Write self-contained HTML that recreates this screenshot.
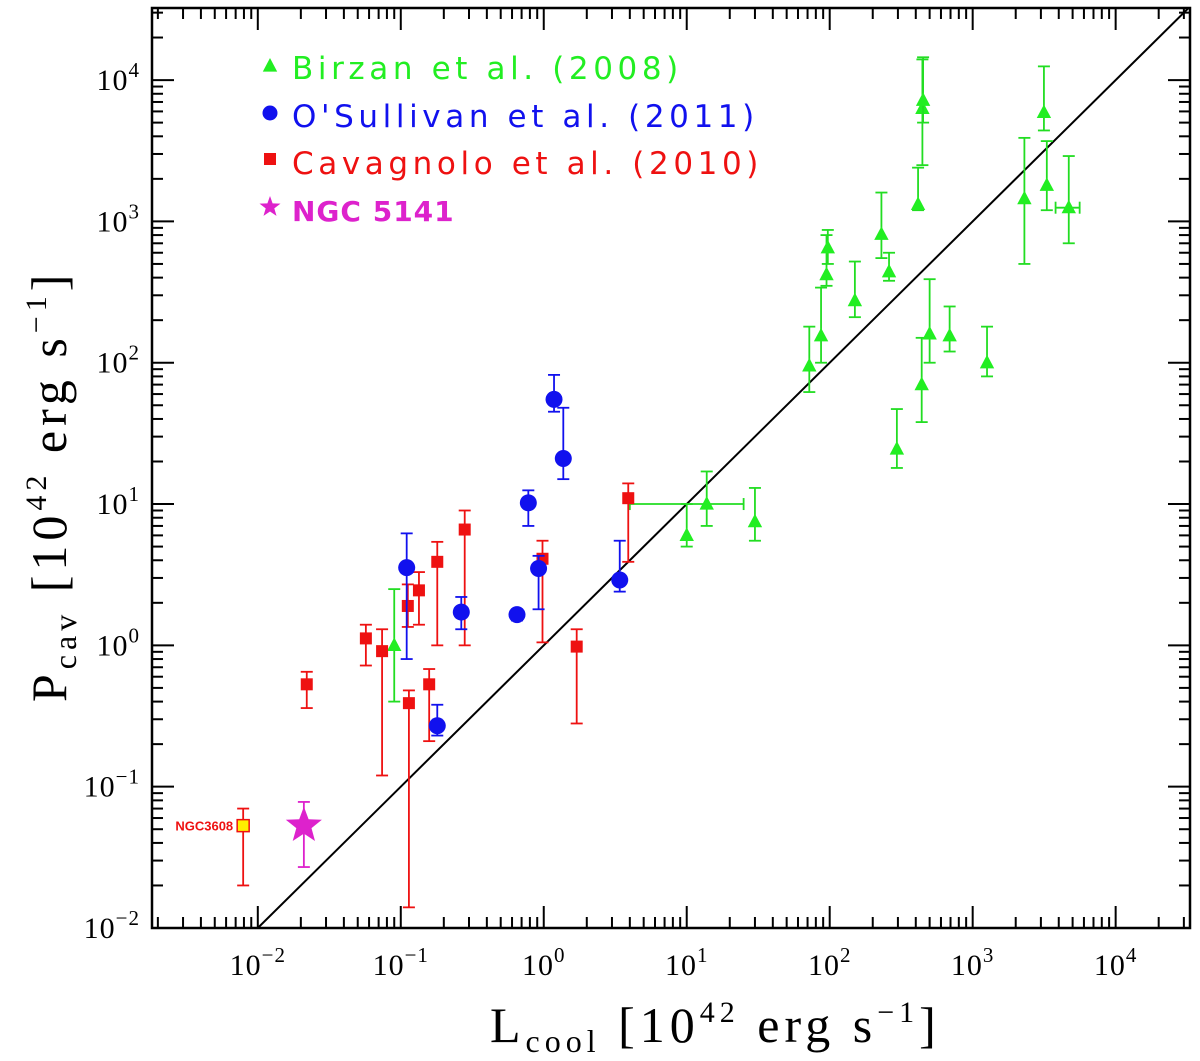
<!DOCTYPE html>
<html><head><meta charset="utf-8"><style>
html,body{margin:0;padding:0;background:#fff;width:1200px;height:1061px;overflow:hidden}
svg{display:block}
.tk{font-family:"Liberation Serif",serif;font-size:30px;fill:#000;letter-spacing:1px}
.ti{font-family:"Liberation Serif",serif;font-size:50px;fill:#000;letter-spacing:5px}
.lg{font-family:"DejaVu Sans","Liberation Sans",sans-serif;font-size:31px;letter-spacing:4.6px}
</style></head><body>
<svg id="chart" width="1200" height="1061"></svg>
<script>
const birzanX=[0.09,10,13.8,30,72,87,95,97,150,230,260,295,415,440,445,450,500,690,1260,2300,3150,3300,4700];
const birzanY=[1.0,6,10,7.5,95,155,420,650,275,810,440,24.5,1320,70,6300,7200,160,155,100,1450,5900,1800,1250];
const birzanLo=[0.4,5,7,5.5,62,100,350,500,210,550,380,18,1200,38,2500,5000,100,120,80,500,4400,1200,700];
const birzanHi=[2.5,10,17,13,180,340,800,870,520,1600,600,47,2400,150,14000,14500,390,250,180,3900,12500,3700,2900];
const birzanXLo=[null,null,4,null,null,null,null,null,null,null,null,null,null,null,null,null,null,null,null,null,null,null,3800];
const birzanXHi=[null,null,25,null,null,null,null,null,null,null,null,null,null,null,null,null,null,null,null,null,null,null,5600];
const osulX=[0.11,0.18,0.265,0.65,0.78,0.92,1.18,1.37,3.4];
const osulY=[3.55,0.27,1.72,1.65,10.2,3.5,55,21,2.9];
const osulLo=[0.8,0.23,1.3,1.5,7,1.8,45,15,2.4];
const osulHi=[6.2,0.38,2.2,1.8,12.5,4.3,82,48,5.5];
const cavX=[0.022,0.057,0.074,0.112,0.114,0.134,0.158,0.18,0.28,0.98,1.7,3.9];
const cavY=[0.53,1.12,0.91,1.9,0.39,2.45,0.53,3.9,6.6,4.1,0.98,11];
const cavLo=[0.36,0.72,0.12,1.35,0.014,1.4,0.21,1.0,1.0,1.05,0.28,3.9];
const cavHi=[0.65,1.4,1.3,2.7,0.48,3.3,0.68,5.4,9.0,5.5,1.3,14];
const ngc3608=[0.0079,0.053,0.02,0.07];
const ngc5141=[0.021,0.053,0.027,0.078];
const xTicks=[-2,-1,0,1,2,3,4];
const yTicks=[-2,-1,0,1,2,3,4];
const tickLabels=["−2","−1","0","1","2","3","4"];

const L=152,R=1190,T=8,B=928;
const xmin=-2.74,xmax=4.52,ymin=-2,ymax=4.51;
const sx=v=>L+(Math.log10(v)-xmin)/(xmax-xmin)*(R-L);
const sy=v=>B-(Math.log10(v)-ymin)/(ymax-ymin)*(B-T);
const lx=l=>L+(l-xmin)/(xmax-xmin)*(R-L);
const ly=l=>B-(l-ymin)/(ymax-ymin)*(B-T);
const svg=document.getElementById('chart');
const NS='http://www.w3.org/2000/svg';
function mk(tag,at,parent){const e=document.createElementNS(NS,tag);for(const k in at)e.setAttribute(k,at[k]);(parent||svg).appendChild(e);return e;}

const clip=mk('clipPath',{id:'pc'});mk('rect',{x:L,y:T,width:R-L,height:B-T},clip);
const diag=mk('line',{x1:sx(0.01),y1:sy(0.01),x2:lx(4.52),y2:ly(4.52),stroke:'#000','stroke-width':2,'clip-path':'url(#pc)'});



const tg=mk('g',{stroke:'#000','stroke-width':2});


for(let d=-3;d<=4;d++){for(let m=1;m<10;m++){const l=d+Math.log10(m);const len=m==1?22:11;
 if(l>xmin&&l<xmax){const x=lx(l);mk('line',{x1:x,y1:B,x2:x,y2:B-len},tg);mk('line',{x1:x,y1:T,x2:x,y2:T+len},tg);}
 if(l>ymin-0.001&&l<ymax){const y=ly(l);mk('line',{x1:L,y1:y,x2:L+len,y2:y},tg);mk('line',{x1:R,y1:y,x2:R-len,y2:y},tg);}}}
const frame=mk('rect',{x:L,y:T,width:R-L,height:B-T,fill:'none',stroke:'#000','stroke-width':2.5});



xTicks.forEach((t,i)=>{const tx=mk('text',{x:lx(t),y:975,class:'tk','text-anchor':'middle'});tx.innerHTML='10<tspan dy="-13" font-size="21">'+tickLabels[i]+'</tspan>';
 
 });
yTicks.forEach((t,i)=>{const tx=mk('text',{x:140,y:ly(t)+10,class:'tk','text-anchor':'end'});tx.innerHTML='10<tspan dy="-13" font-size="21">'+tickLabels[i]+'</tspan>';
 
 });

const xt=mk('text',{x:490,y:1042,class:'ti'});
xt.innerHTML='L<tspan font-size="32" dy="10">cool</tspan><tspan dy="-10"> [10</tspan><tspan font-size="30" dy="-20">42</tspan><tspan dy="20"> erg s</tspan><tspan font-size="30" dy="-20">−1</tspan><tspan dy="20">]</tspan>';


const yt=mk('text',{class:'ti',transform:'translate(66,702) rotate(-90)'});
yt.innerHTML='P<tspan font-size="32" dy="10">cav</tspan><tspan dy="-10"> [10</tspan><tspan font-size="30" dy="-20">42</tspan><tspan dy="20"> erg s</tspan><tspan font-size="30" dy="-20">−1</tspan><tspan dy="20">]</tspan>';



function errbar(g,x,lo,hi,col){const X=sx(x);mk('line',{x1:X,y1:sy(lo),x2:X,y2:sy(hi),stroke:col,'stroke-width':1.8},g);
 [lo,hi].forEach(v=>mk('line',{x1:X-6,y1:sy(v),x2:X+6,y2:sy(v),stroke:col,'stroke-width':1.8},g));}
function xerr(g,y,lo,hi,col){const Y=sy(y);mk('line',{x1:sx(lo),y1:Y,x2:sx(hi),y2:Y,stroke:col,'stroke-width':1.8},g);
 [lo,hi].forEach(v=>mk('line',{x1:sx(v),y1:Y-6,x2:sx(v),y2:Y+6,stroke:col,'stroke-width':1.8},g));}
const tri=(x,y,s)=>`${x},${y-s} ${x-s*0.9},${y+s*0.7} ${x+s*0.9},${y+s*0.7}`;
function star(x,y,r,r2){let p=[];for(let i=0;i<10;i++){const a=-Math.PI/2+i*Math.PI/5;const rr=i%2?r2:r;p.push((x+rr*Math.cos(a)).toFixed(1)+','+(y+rr*Math.sin(a)).toFixed(1));}return p.join(' ');}

const gG=mk('g',{});
birzanX.forEach((x,i)=>{errbar(gG,x,birzanLo[i],birzanHi[i],'#22dd22');if(birzanXLo[i])xerr(gG,birzanY[i],birzanXLo[i],birzanXHi[i],'#22dd22');
 const p=mk('polygon',{points:tri(sx(x),sy(birzanY[i]),8),fill:'#22ee22'},gG);
 
 });
const gC=mk('g',{});
cavX.forEach((x,i)=>{errbar(gC,x,cavLo[i],cavHi[i],'#ee1111');
 const p=mk('rect',{x:sx(x)-6,y:sy(cavY[i])-6,width:12,height:12,fill:'#ee1111'},gC);
 
 });
const gB=mk('g',{});
osulX.forEach((x,i)=>{errbar(gB,x,osulLo[i],osulHi[i],'#1111ee');
 const p=mk('circle',{cx:sx(x),cy:sy(osulY[i]),r:8.5,fill:'#1111ee'},gB);
 
 });
const gN=mk('g',{});
errbar(gN,ngc3608[0],ngc3608[2],ngc3608[3],'#ee1111');
mk('rect',{x:sx(ngc3608[0])-6,y:sy(ngc3608[1])-6,width:12,height:12,fill:'#ffee00',stroke:'#ee1111','stroke-width':1.5},gN);
const nl=mk('text',{x:sx(ngc3608[0])-10,y:sy(ngc3608[1])+5,'text-anchor':'end',fill:'#ee1111','font-size':'13','font-weight':'bold','font-family':'"Liberation Sans",sans-serif'},gN);nl.textContent='NGC3608';


const gS=mk('g',{});
errbar(gS,ngc5141[0],ngc5141[2],ngc5141[3],'#dd22cc');
mk('polygon',{points:star(sx(ngc5141[0]),sy(ngc5141[1]),19,8),fill:'#dd22cc'},gS);

const lg=mk('g',{});
const ents=[['Birzan et al. (2008)','#22ee22','tri',68],["O'Sullivan et al. (2011)",'#1111ee','cir',116],['Cavagnolo et al. (2010)','#ee1111','sq',163],['NGC 5141','#dd22cc','star',210]];
ents.forEach(e=>{const y=e[3];
 if(e[2]=='tri')mk('polygon',{points:tri(270,y-2,8),fill:e[1]},lg);
 if(e[2]=='cir')mk('circle',{cx:270,cy:y-3,r:7.5,fill:e[1]},lg);
 if(e[2]=='sq')mk('rect',{x:264,y:y-10,width:12,height:12,fill:e[1]},lg);
 if(e[2]=='star')mk('polygon',{points:star(270,y-3,11,4.5),fill:e[1]},lg);
 const t=mk('text',{x:292,y:y+11,class:'lg',fill:e[1]},lg);
 if(e[2]=='star'){t.setAttribute('font-weight','bold');t.style.fontSize='28px';t.style.letterSpacing='1px';}
 t.textContent=e[0];
 
 });
</script>
</body></html>
